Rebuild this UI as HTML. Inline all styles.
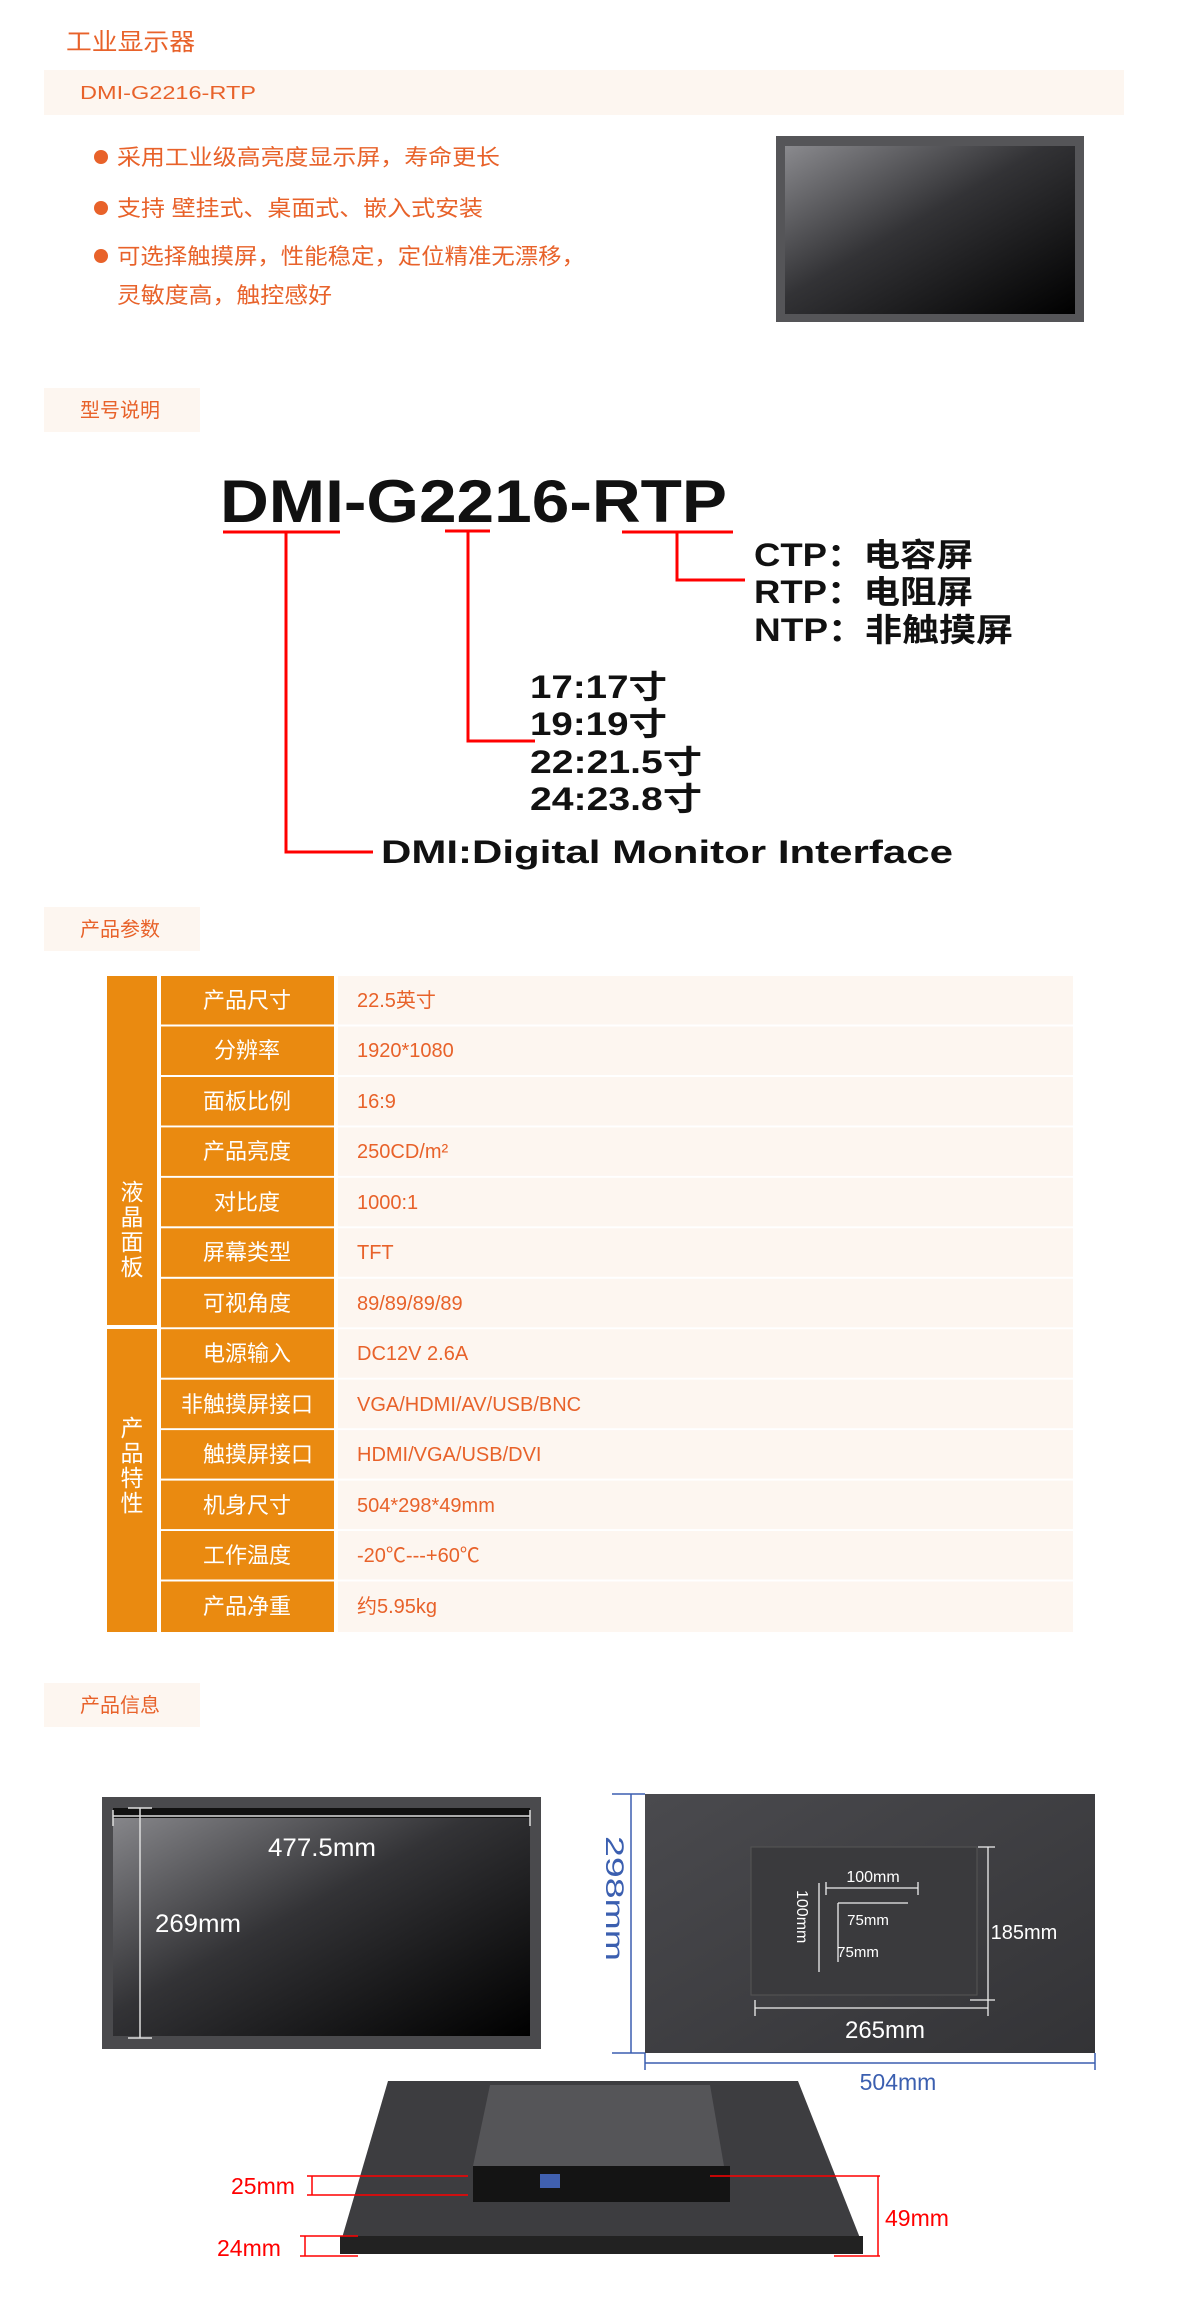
<!DOCTYPE html>
<html><head><meta charset="utf-8"><style>
html,body{margin:0;padding:0;background:#fff;}
svg{display:block;}
.cn{font-family:"Liberation Sans","Noto Sans CJK SC",sans-serif;}
</style></head><body>
<svg width="1200" height="2300" viewBox="0 0 1200 2300" xmlns="http://www.w3.org/2000/svg" class="cn">
<defs>
<linearGradient id="scr" x1="0" y1="0" x2="1" y2="1">
<stop offset="0" stop-color="#8a8a8e"/><stop offset="0.45" stop-color="#333336"/><stop offset="1" stop-color="#000"/>
</linearGradient>
<linearGradient id="back" x1="0" y1="0" x2="1" y2="1">
<stop offset="0" stop-color="#4a4a4e"/><stop offset="1" stop-color="#333336"/>
</linearGradient>
</defs>
<rect width="1200" height="2300" fill="#fff"/>

<!-- header -->
<text x="66" y="50" font-size="24" fill="#e8622a" textLength="129" lengthAdjust="spacingAndGlyphs">工业显示器</text>
<rect x="44" y="70" width="1080" height="45" fill="#fdf6f0"/>
<text x="80" y="99" font-size="18" fill="#e8622a" textLength="176" lengthAdjust="spacingAndGlyphs">DMI-G2216-RTP</text>

<g font-size="22" fill="#e8622a">
<circle cx="101" cy="157" r="7" fill="#e8622a"/>
<text x="117" y="165" textLength="383" lengthAdjust="spacingAndGlyphs">采用工业级高亮度显示屏，寿命更长</text>
<circle cx="101" cy="208" r="7" fill="#e8622a"/>
<text x="117" y="216" textLength="366" lengthAdjust="spacingAndGlyphs">支持 壁挂式、桌面式、嵌入式安装</text>
<circle cx="101" cy="256" r="7" fill="#e8622a"/>
<text x="117" y="264" textLength="468" lengthAdjust="spacingAndGlyphs">可选择触摸屏，性能稳定，定位精准无漂移，</text>
<text x="117" y="303" textLength="215" lengthAdjust="spacingAndGlyphs">灵敏度高，触控感好</text>
</g>
<rect x="776" y="136" width="308" height="186" fill="#555558"/>
<rect x="785" y="146" width="290" height="168" fill="url(#scr)"/>

<!-- 型号说明 -->
<rect x="44" y="388" width="156" height="44" fill="#fdf6f0"/>
<text x="80" y="417" font-size="20" fill="#e8622a">型号说明</text>

<text x="220" y="522" font-size="60" font-weight="bold" fill="#111" textLength="507" lengthAdjust="spacingAndGlyphs">DMI-G2216-RTP</text>
<g stroke="#f00" stroke-width="3" fill="none">
<line x1="223" y1="532" x2="340" y2="532"/>
<line x1="445" y1="531" x2="490" y2="531"/>
<line x1="622" y1="532" x2="733" y2="532"/>
<polyline points="286,532 286,852 373,852"/>
<polyline points="468,531 468,741 535,741"/>
<polyline points="677,532 677,580 745,580"/>
</g>
<g font-size="32" fill="#111" font-weight="bold">
<text x="754" y="566" textLength="219" lengthAdjust="spacingAndGlyphs">CTP：电容屏</text>
<text x="754" y="603" textLength="219" lengthAdjust="spacingAndGlyphs">RTP：电阻屏</text>
<text x="754" y="641" textLength="259" lengthAdjust="spacingAndGlyphs">NTP：非触摸屏</text>
<text x="530" y="698" textLength="137" lengthAdjust="spacingAndGlyphs">17:17寸</text>
<text x="530" y="735" textLength="137" lengthAdjust="spacingAndGlyphs">19:19寸</text>
<text x="530" y="773" textLength="172" lengthAdjust="spacingAndGlyphs">22:21.5寸</text>
<text x="530" y="810" textLength="172" lengthAdjust="spacingAndGlyphs">24:23.8寸</text>
<text x="381" y="863" textLength="572" lengthAdjust="spacingAndGlyphs">DMI:Digital Monitor Interface</text>
</g>

<!-- 产品参数 -->
<rect x="44" y="907" width="156" height="44" fill="#fdf6f0"/>
<text x="80" y="936" font-size="20" fill="#e8622a">产品参数</text>

<rect x="107" y="976" width="50" height="349" fill="#ea8a10"/>
<rect x="107" y="1329" width="50" height="303" fill="#ea8a10"/>
<g font-size="23" fill="#fff" text-anchor="middle">
<text x="132" y="1200">液</text><text x="132" y="1225">晶</text><text x="132" y="1250">面</text><text x="132" y="1275">板</text>
<text x="132" y="1436">产</text><text x="132" y="1461">品</text><text x="132" y="1486">特</text><text x="132" y="1511">性</text>
</g>
<g fill="#ea8a10">
<rect x="161" y="976" width="173" height="48.5"/>
<rect x="161" y="1026.5" width="173" height="48.5"/>
<rect x="161" y="1077" width="173" height="48.5"/>
<rect x="161" y="1127.4" width="173" height="48.5"/>
<rect x="161" y="1177.8" width="173" height="48.5"/>
<rect x="161" y="1228.3" width="173" height="48.5"/>
<rect x="161" y="1278.8" width="173" height="48.5"/>
<rect x="161" y="1329.2" width="173" height="48.5"/>
<rect x="161" y="1379.7" width="173" height="48.5"/>
<rect x="161" y="1430.1" width="173" height="48.5"/>
<rect x="161" y="1480.6" width="173" height="48.5"/>
<rect x="161" y="1531" width="173" height="48.5"/>
<rect x="161" y="1581.5" width="173" height="50.5"/>
</g>
<g fill="#fdf6f0">
<rect x="338" y="976" width="735" height="48.5"/>
<rect x="338" y="1026.5" width="735" height="48.5"/>
<rect x="338" y="1077" width="735" height="48.5"/>
<rect x="338" y="1127.4" width="735" height="48.5"/>
<rect x="338" y="1177.8" width="735" height="48.5"/>
<rect x="338" y="1228.3" width="735" height="48.5"/>
<rect x="338" y="1278.8" width="735" height="48.5"/>
<rect x="338" y="1329.2" width="735" height="48.5"/>
<rect x="338" y="1379.7" width="735" height="48.5"/>
<rect x="338" y="1430.1" width="735" height="48.5"/>
<rect x="338" y="1480.6" width="735" height="48.5"/>
<rect x="338" y="1531" width="735" height="48.5"/>
<rect x="338" y="1581.5" width="735" height="50.5"/>
</g>
<g fill="#fff" text-anchor="middle" font-size="22">
<text x="247" y="1008">产品尺寸</text>
<text x="247" y="1058">分辨率</text>
<text x="247" y="1109">面板比例</text>
<text x="247" y="1159">产品亮度</text>
<text x="247" y="1210">对比度</text>
<text x="247" y="1260">屏幕类型</text>
<text x="247" y="1311">可视角度</text>
<text x="247" y="1361">电源输入</text>
<text x="247" y="1412">非触摸屏接口</text>
<text x="258" y="1462">触摸屏接口</text>
<text x="247" y="1513">机身尺寸</text>
<text x="247" y="1563">工作温度</text>
<text x="247" y="1614">产品净重</text>
</g>
<g fill="#e8622a" font-size="20">
<text x="357" y="1007">22.5英寸</text>
<text x="357" y="1057">1920*1080</text>
<text x="357" y="1108">16:9</text>
<text x="357" y="1158">250CD/m²</text>
<text x="357" y="1209">1000:1</text>
<text x="357" y="1259">TFT</text>
<text x="357" y="1310">89/89/89/89</text>
<text x="357" y="1360">DC12V 2.6A</text>
<text x="357" y="1411">VGA/HDMI/AV/USB/BNC</text>
<text x="357" y="1461">HDMI/VGA/USB/DVI</text>
<text x="357" y="1512">504*298*49mm</text>
<text x="357" y="1562">-20℃---+60℃</text>
<text x="357" y="1613">约5.95kg</text>
</g>

<!-- 产品信息 -->
<rect x="44" y="1683" width="156" height="44" fill="#fdf6f0"/>
<text x="80" y="1712" font-size="20" fill="#e8622a">产品信息</text>

<!-- front -->
<rect x="102" y="1797" width="439" height="252" fill="#4a4a4d"/>
<rect x="113" y="1808" width="417" height="228" fill="url(#scr)"/>
<rect x="113" y="1808" width="417" height="10" fill="#111"/>
<g stroke="#ddd" stroke-width="1.5">
<line x1="113" y1="1816" x2="530" y2="1816"/>
<line x1="140" y1="1808" x2="140" y2="2038"/>
<line x1="113" y1="1810" x2="113" y2="1826"/><line x1="530" y1="1810" x2="530" y2="1826"/>
<line x1="128" y1="1808" x2="152" y2="1808"/><line x1="128" y1="2038" x2="152" y2="2038"/>
</g>
<text x="268" y="1856" font-size="25" fill="#fff" textLength="108" lengthAdjust="spacingAndGlyphs">477.5mm</text>
<text x="155" y="1932" font-size="25" fill="#fff" textLength="86" lengthAdjust="spacingAndGlyphs">269mm</text>

<!-- back -->
<rect x="645" y="1794" width="450" height="259" fill="url(#back)"/>
<rect x="751" y="1847" width="226" height="148" fill="#3a3a3d" stroke="#555" stroke-width="1"/>
<g stroke="#3b5fb0" stroke-width="1.5">
<line x1="631" y1="1794" x2="631" y2="2053"/>
<line x1="612" y1="1794" x2="645" y2="1794"/><line x1="612" y1="2053" x2="645" y2="2053"/>
<line x1="645" y1="2063" x2="1095" y2="2063"/>
<line x1="645" y1="2053" x2="645" y2="2070"/><line x1="1095" y1="2053" x2="1095" y2="2070"/>
</g>
<text transform="translate(606,1836) rotate(90)" font-size="25" fill="#3b5fb0" textLength="125" lengthAdjust="spacingAndGlyphs">298mm</text>
<text x="898" y="2090" font-size="23" fill="#3b5fb0" text-anchor="middle">504mm</text>
<g stroke="#eee" stroke-width="1.3">
<line x1="978" y1="1847" x2="995" y2="1847"/><line x1="988" y1="1847" x2="988" y2="2000"/><line x1="970" y1="2000" x2="995" y2="2000"/>
<line x1="755" y1="2008" x2="988" y2="2008"/><line x1="755" y1="2000" x2="755" y2="2016"/><line x1="988" y1="2000" x2="988" y2="2016"/>
<line x1="826" y1="1888" x2="918" y2="1888"/>
<line x1="826" y1="1882" x2="826" y2="1895"/><line x1="918" y1="1882" x2="918" y2="1895"/>
<line x1="838" y1="1903" x2="908" y2="1903"/>
<line x1="838" y1="1903" x2="838" y2="1962"/>
<line x1="819" y1="1883" x2="819" y2="1972"/>
</g>
<text x="873" y="1882" font-size="16" fill="#fff" text-anchor="middle">100mm</text>
<text x="868" y="1925" font-size="15" fill="#fff" text-anchor="middle">75mm</text>
<text x="858" y="1957" font-size="15" fill="#fff" text-anchor="middle">75mm</text>
<text transform="translate(797,1890) rotate(90)" font-size="16" fill="#fff">100mm</text>
<text x="1024" y="1939" font-size="20" fill="#fff" text-anchor="middle">185mm</text>
<text x="885" y="2038" font-size="24" fill="#fff" text-anchor="middle">265mm</text>

<!-- bottom perspective -->
<polygon points="388,2081 798,2081 860,2238 342,2238" fill="#3d3d40"/>
<rect x="340" y="2236" width="523" height="18" fill="#222"/>
<polygon points="490,2085 710,2085 724,2166 473,2166" fill="#555558"/>
<rect x="473" y="2166" width="257" height="36" fill="#141414"/>
<rect x="540" y="2174" width="20" height="14" fill="#4060b0"/>
<g stroke="#f00" stroke-width="1.5">
<line x1="307" y1="2176" x2="468" y2="2176"/><line x1="307" y1="2195" x2="468" y2="2195"/>
<line x1="312" y1="2176" x2="312" y2="2195"/>
<line x1="300" y1="2236" x2="358" y2="2236"/><line x1="300" y1="2256" x2="358" y2="2256"/>
<line x1="305" y1="2236" x2="305" y2="2256"/>
<line x1="710" y1="2176" x2="880" y2="2176"/><line x1="834" y1="2256" x2="880" y2="2256"/>
<line x1="878" y1="2176" x2="878" y2="2256"/>
</g>
<g font-size="23" fill="#f00">
<text x="231" y="2194">25mm</text>
<text x="217" y="2256">24mm</text>
<text x="885" y="2226">49mm</text>
</g>
</svg>
</body></html>
